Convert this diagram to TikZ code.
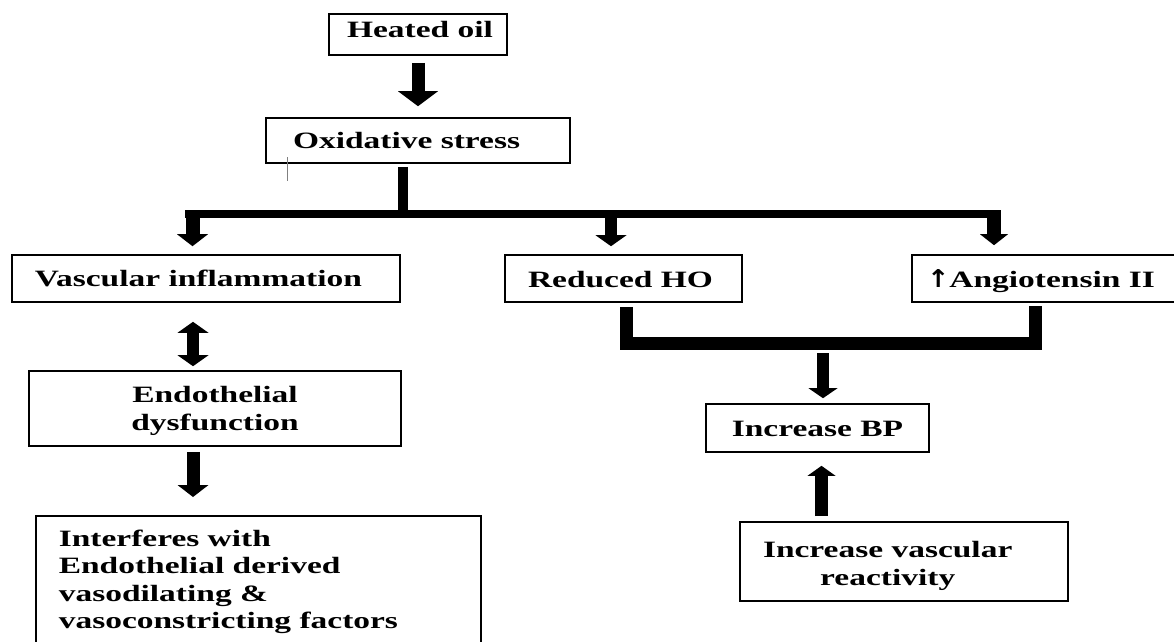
\documentclass[tikz,border=0pt]{standalone}
\usepackage{fontspec}
\setmainfont{Liberation Serif}
\newfontfamily\arrowfont{DejaVu Sans}
\usepackage{graphicx}
\usetikzlibrary{arrows.meta}
\newcommand{\sx}[1]{\scalebox{1.43}[1]{#1}}
\newcommand{\lbox}[3]{\makebox[#1][l]{\hspace*{#2}\sx{#3}}}
\newcommand{\cbox}[2]{\makebox[#1][c]{\sx{#2}}}
\newcommand{\ff}{\fontsize{23.4pt}{27.5pt}\selectfont\bfseries}
\newcommand{\uparr}{{\arrowfont\bfseries\scalebox{0.8}[1.05]{↑}}}
\begin{document}
\begin{tikzpicture}[x=1pt,y=-1pt,
  box/.style={draw=black, line width=1.6pt, inner sep=0pt, font=\ff},
  fat/.style n args={3}{line width=#1, -{Triangle[width=#2,length=#3,line width=0pt]}},
  dfat/.style n args={3}{line width=#1, {Triangle[width=#2,length=#3,line width=0pt]}-{Triangle[width=#2,length=#3,line width=0pt]}},
  busline/.style={line width=#1},
  ]
\useasboundingbox (0,0) rectangle (1174,641);
\clip (0,0) rectangle (1174,641);

\node[box, minimum height=41pt, text height=13pt, text depth=7.4pt] (heat) at (418,34.5) {\lbox{178pt}{18pt}{Heated oil}};
\node[box, minimum height=45pt, text height=17pt, text depth=1.4pt] (ox) at (418,140.5) {\lbox{304pt}{27pt}{Oxidative stress}};
\node[box, minimum height=47pt, text height=17pt, text depth=0.6pt] (vasc) at (206,278.5) {\lbox{388pt}{23pt}{Vascular inflammation}};
\node[box, minimum height=47pt, text height=17.6pt, text depth=0pt] (red) at (623.5,278.5) {\lbox{237pt}{23pt}{Reduced HO}};
\node[box, minimum height=47pt, text height=17.6pt, text depth=0pt] (ang) at (1047,278.5) {\lbox{270pt}{15pt}{\uparr Angiotensin II}};
\node[box, minimum height=75pt, text height=46.5pt, text depth=3.5pt] (endo) at (215,408.5) {\cbox{372pt}{\begin{tabular}[b]{@{}c@{}}Endothelial\\dysfunction\end{tabular}}};
\node[box, anchor=north west, text height=113pt, text depth=40pt] (inter) at (35,515) {\lbox{445pt}{23pt}{\begin{tabular}[b]{@{}l@{}}Interferes with\\Endothelial derived\\vasodilating \&\\vasoconstricting factors\end{tabular}}};
\node[box, minimum height=48pt, text height=17pt, text depth=1pt] (bp) at (817.5,428) {\cbox{223pt}{Increase BP}};
\node[box, minimum height=79pt, text height=47.5pt, text depth=0.5pt] (react) at (904,561.5) {\lbox{328pt}{23pt}{\begin{tabular}[b]{@{}c@{}}Increase vascular\\reactivity\end{tabular}}};

\coordinate (busC) at (403,214);
\coordinate (busL) at (192.5,214);
\coordinate (busM) at (611,214);
\coordinate (busR) at (994,214);
\coordinate (dx) at (193,0);
\coordinate (ux1) at (626,343.5);
\coordinate (ux2) at (1035,343.5);
\coordinate (uxm) at (823,343.5);
\coordinate (ex) at (821.5,0);
\coordinate (tickA) at (287,157);
\coordinate (tickB) at (287,181);

\draw[fat={13pt}{40pt}{15pt}, shorten <=7pt, shorten >=11pt] (heat.south) -- (ox.north);
\draw[busline=10pt, shorten <=3pt] (busC |- ox.south) -- ([yshift=-4pt]busC);
\draw[busline=8pt] ([xshift=-7.5pt]busL) -- ([xshift=7pt]busR);
\draw[fat={14pt}{31pt}{12pt}, shorten >=8pt] ([yshift=4pt]busL) -- (busL |- vasc.north);
\draw[fat={12pt}{31pt}{11pt}, shorten >=8pt] ([yshift=4pt]busM) -- (busM |- red.north);
\draw[fat={14pt}{28pt}{11pt}, shorten >=9pt] ([yshift=4pt]busR) -- (busR |- ang.north);
\draw[dfat={12pt}{31pt}{11pt}, shorten <=19pt, shorten >=4pt] (dx |- vasc.south) -- (dx |- endo.north);
\draw[fat={13pt}{31pt}{12pt}, shorten <=5pt, shorten >=18pt] (dx |- endo.south) -- (dx |- inter.north);
\draw[busline=13pt, shorten <=4pt, shorten >=3pt] (ux1 |- red.south) -- (ux1) -- (ux2) -- (ux2 |- ang.south);
\draw[fat={12pt}{29pt}{10pt}, shorten <=9.5pt, shorten >=5pt] (uxm) -- (uxm |- bp.north);
\draw[fat={13pt}{28pt}{10pt}, shorten <=5pt, shorten >=13pt] (ex |- react.north) -- (ex |- bp.south);
\draw[gray, line width=0.8pt] (tickA) -- (tickB);
\end{tikzpicture}
\end{document}
